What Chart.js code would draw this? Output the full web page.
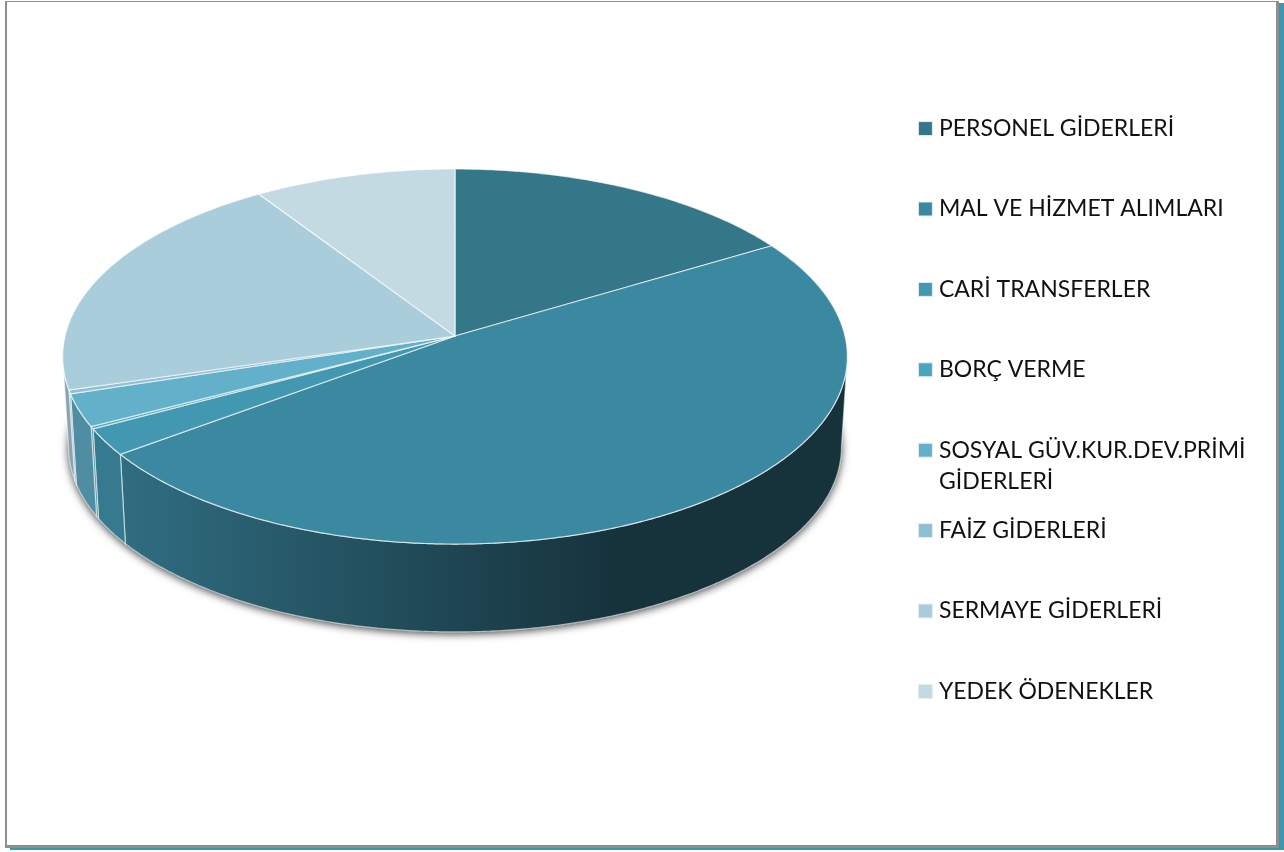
<!DOCTYPE html>
<html lang="tr">
<head>
<meta charset="utf-8">
<title>Giderler</title>
<script src="https://cdn.jsdelivr.net/npm/chart.js@4/dist/chart.umd.min.js"></script>
<style>
    html, body { margin: 0; padding: 0; background: #fff; }
    #page { position: relative; width: 1284px; height: 852px; overflow: hidden; }
    #frame {
        position: absolute; left: 5px; top: 1px; width: 1269px; height: 843px;
        border-style: solid; border-color: #8e8e8e; border-width: 1px 3px 3px 2px;
        box-shadow: 5px 2px 0 #3b97b1;
    }
    #chart { position: absolute; left: 0; top: 0; }
</style>
</head>
<body>
<div id="page">
    <div id="frame"></div>
    <canvas id="chart" width="1284" height="852"></canvas>
</div>
<script>
const categories = [
    "PERSONEL GİDERLERİ",
    "MAL VE HİZMET ALIMLARI",
    "CARİ TRANSFERLER",
    "BORÇ VERME",
    "SOSYAL GÜV.KUR.DEV.PRİMİ GİDERLERİ",
    "FAİZ GİDERLERİ",
    "SERMAYE GİDERLERİ",
    "YEDEK ÖDENEKLER"
];
const shares = [16.4, 48.4, 2.3, 0.2, 2.8, 0.33, 20.3, 9.25];
const colors = ["#337789", "#3b88a1", "#4298b1", "#4aa6bf", "#63b0cb", "#8ebfd3", "#a9cddb", "#c3dae3"];

// look of the tilted disc
const centerX = 455, centerY = 336;
const radiusX = 390, radiusY = 185.3;
const perspective = -0.1093;
const depth = 91, bottomScale = 0.985;
const maxLegendChars = 24;

// where the disc edge turns away from the viewer (angles from 12 o'clock)
const frontStart = Math.PI / 2 + 0.11;
const frontEnd = 3 * Math.PI / 2 - 0.11;

function topPoint(theta) {
    const u = Math.sin(theta), v = -Math.cos(theta);
    const f = 1 + perspective * v;
    return [centerX + radiusX * u / f, centerY + radiusY * v / f];
}

function bottomPoint(theta) {
    const p = topPoint(theta);
    return [centerX + (p[0] - centerX) * bottomScale, centerY + (p[1] - centerY) * bottomScale + depth];
}

function edgePoints(from, to, pointAt) {
    const steps = Math.max(2, Math.ceil(Math.abs(to - from) / 0.008));
    const points = [];
    for (let i = 0; i <= steps; i++) points.push(pointAt(from + (to - from) * i / steps));
    return points;
}

function tracePoints(ctx, points, start) {
    points.forEach((p, i) => {
        if (i === 0 && start) ctx.moveTo(p[0], p[1]);
        else ctx.lineTo(p[0], p[1]);
    });
}

// Chart.js lays out the slice angles, this plugin paints them as a tilted disc
const tiltedPie = {
    id: "tiltedPie",
    beforeDatasetDraw(chart, args) {
        const ctx = chart.ctx;
        const arcs = args.meta.data;

        // soft shadow under the disc
        ctx.save();
        ctx.shadowColor = "rgba(0, 0, 0, 0.75)";
        ctx.shadowBlur = 9;
        ctx.shadowOffsetY = 2;
        ctx.fillStyle = "#16373f";
        ctx.beginPath();
        tracePoints(ctx, edgePoints(0, Math.PI * 2, bottomPoint), true);
        ctx.closePath();
        ctx.fill();
        ctx.restore();

        const shade = ctx.createLinearGradient(63, 0, 847, 0);
        shade.addColorStop(0, "rgba(0, 0, 0, 0.2)");
        shade.addColorStop(58 / 784, "rgba(0, 0, 0, 0.2)");
        shade.addColorStop(557 / 784, "rgba(0, 0, 0, 0.63)");
        shade.addColorStop(1, "rgba(0, 0, 0, 0.63)");

        // side walls
        arcs.forEach((arc, i) => {
            const from = Math.max(arc.startAngle + Math.PI / 2, frontStart);
            const to = Math.min(arc.endAngle + Math.PI / 2, frontEnd);
            if (to <= from) return;
            ctx.beginPath();
            tracePoints(ctx, edgePoints(from, to, topPoint), true);
            tracePoints(ctx, edgePoints(to, from, bottomPoint), false);
            ctx.closePath();
            ctx.fillStyle = colors[i];
            ctx.fill();
            ctx.fillStyle = shade;
            ctx.fill();
            ctx.strokeStyle = "rgba(255, 255, 255, 0.6)";
            ctx.lineWidth = 1.2;
            ctx.stroke();
        });

        // top faces
        arcs.forEach((arc, i) => {
            ctx.beginPath();
            ctx.moveTo(centerX, centerY);
            tracePoints(ctx, edgePoints(arc.startAngle + Math.PI / 2, arc.endAngle + Math.PI / 2, topPoint), false);
            ctx.closePath();
            ctx.fillStyle = colors[i];
            ctx.fill();
            ctx.strokeStyle = "rgba(255, 255, 255, 0.7)";
            ctx.lineWidth = 1.2;
            ctx.stroke();
        });

        return false;
    }
};

// every legend row gets two lines so the rows stay evenly spaced
function legendLines(name) {
    if (name.length <= maxLegendChars) return [name, ""];
    const cut = name.lastIndexOf(" ", maxLegendChars);
    return [name.slice(0, cut), name.slice(cut + 1)];
}

new Chart(document.getElementById("chart"), {
    type: "pie",
    data: {
        labels: categories,
        datasets: [{
            data: shares,
            backgroundColor: colors,
            borderWidth: 0
        }]
    },
    plugins: [tiltedPie],
    options: {
        responsive: false,
        animation: false,
        radius: radiusX,
        layout: { padding: { left: 10, right: 28.5, top: 29, bottom: 22 } },
        plugins: {
            tooltip: { enabled: false },
            legend: {
                position: "right",
                labels: {
                    color: "#111",
                    font: { family: "Lato", size: 23, lineHeight: 1.348 },
                    usePointStyle: true,
                    pointStyle: "rect",
                    boxWidth: 4,
                    boxHeight: 14,
                    padding: 18.4,
                    generateLabels(chart) {
                        return categories.map((name, i) => ({
                            text: legendLines(name),
                            fillStyle: colors[i],
                            strokeStyle: "#e6eff2",
                            lineWidth: 1,
                            pointStyle: "rect",
                            fontColor: "#111",
                            index: i
                        }));
                    }
                }
            }
        }
    }
});
</script>
</body>
</html>
